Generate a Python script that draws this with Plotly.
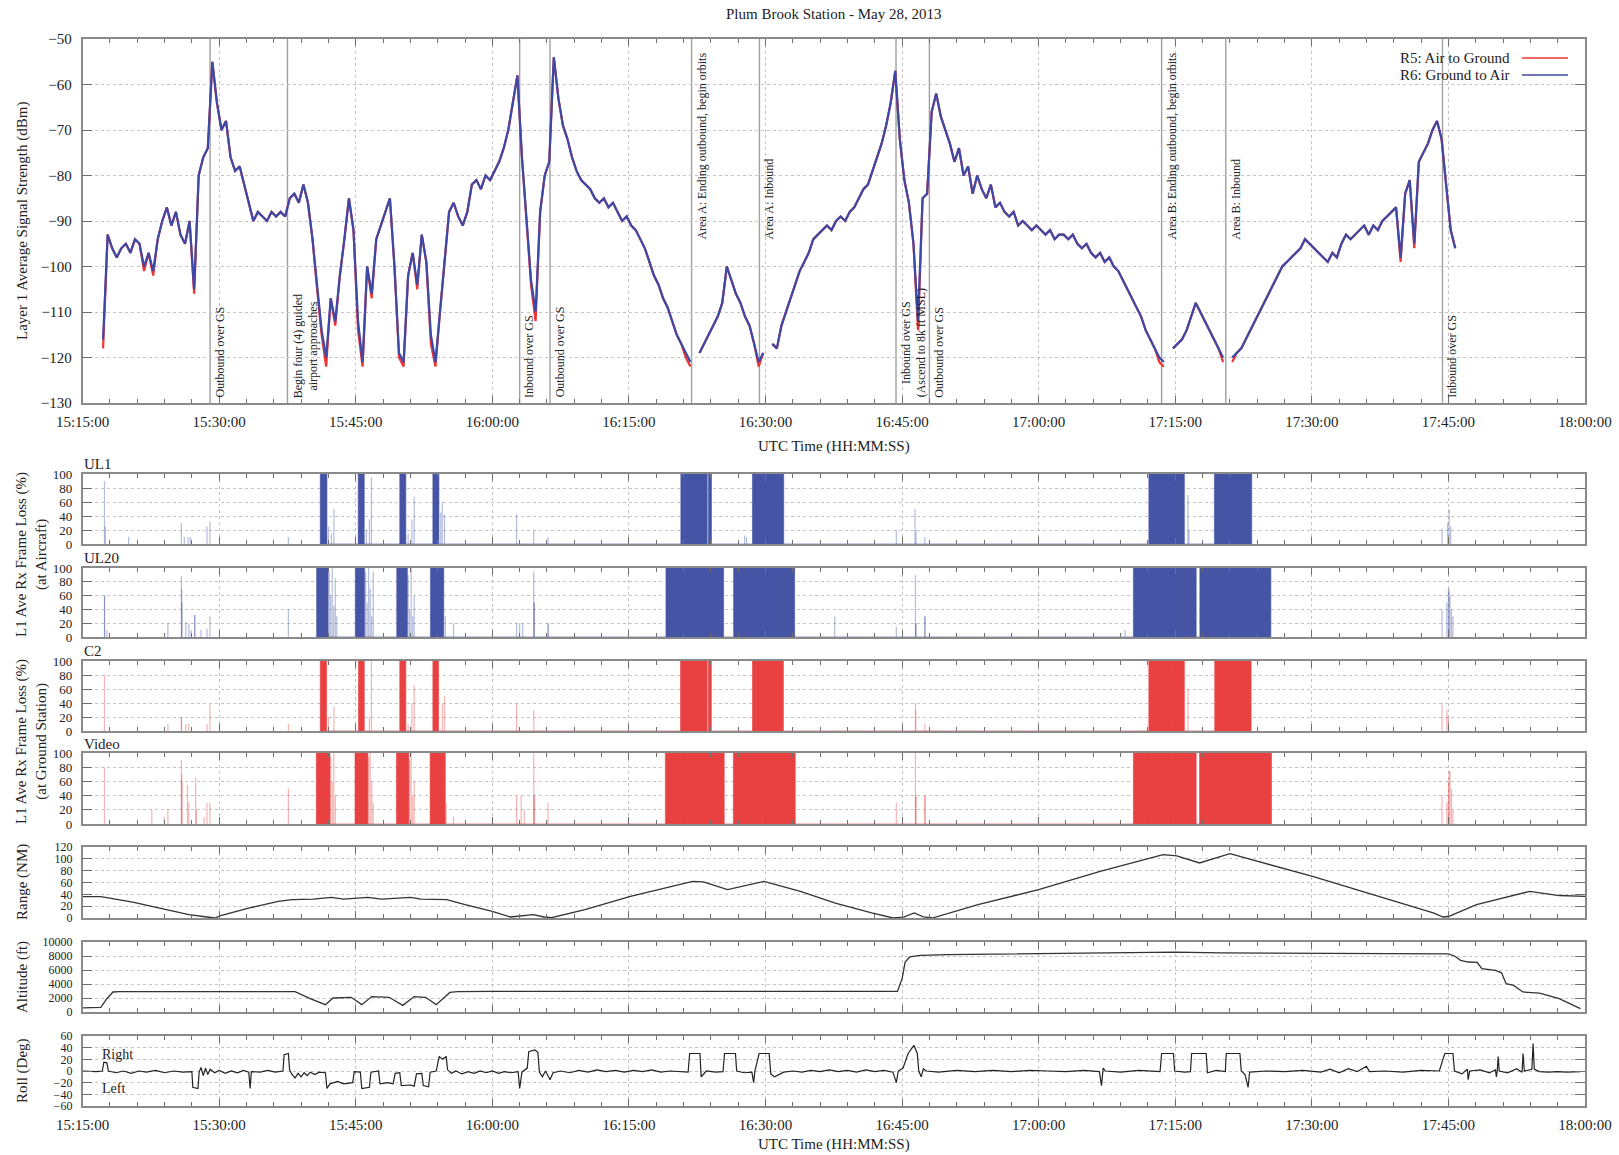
import plotly.graph_objects as go
from plotly.subplots import make_subplots
import pandas as pd

DAY = "2013-05-28 "

# ---------------- Panel 1: Layer 1 average signal strength (30 s samples) ----------------
sig_start = "15:17:15"
r6_dbm = [
    -116, -93, -96, -98, -96, -95, -97, -94, -95, -100,
    -97, -101, -94, -90, -87, -91, -88, -93, -95, -90,
    -105, -80, -76, -74, -55, -64, -70, -68, -76, -79,
    -78, -82, -86, -90, -88, -89, -90, -88, -89, -88,
    -89, -85, -84, -86, -82, -86, -94, -104, -114, -120,
    -107, -112, -102, -94, -85, -92, -112, -121, -100, -106,
    -94, -91, -88, -85, -100, -119, -121, -102, -97, -104,
    -93, -99, -115, -121, -110, -99, -88, -86, -89, -91,
    -88, -82, -81, -83, -80, -81, -79, -77, -74, -70,
    -64, -58, -76, -90, -103, -110, -88, -80, -77, -54,
    -63, -69, -72, -76, -79, -81, -82, -83, -85, -86,
    -85, -87, -86, -88, -90, -89, -91, -92, -94, -96,
    -99, -102, -104, -107, -109, -112, -115, -117, -119, -121,
    None, -119, -117, -115, -113, -111, -108, -100, -103, -106,
    -108, -111, -113, -117, -121, -119, None, -117, -118, -113,
    -110, -107, -104, -101, -99, -97, -94, -93, -92, -91,
    -92, -90, -89, -90, -88, -87, -85, -83, -82, -79,
    -76, -73, -69, -64, -57, -72, -81, -86, -95, -112,
    -85, -84, -66, -62, -67, -70, -73, -77, -74, -80,
    -78, -84, -80, -83, -85, -82, -87, -86, -88, -89,
    -88, -91, -90, -91, -92, -91, -92, -93, -92, -94,
    -93, -93, -94, -93, -95, -96, -95, -97, -98, -97,
    -99, -98, -100, -101, -103, -105, -107, -109, -111, -114,
    -116, -118, -120, -121, None, -118, -117, -116, -114, -111,
    -108, -110, -112, -114, -116, -118, -120, None, -120, -119,
    -118, -116, -114, -112, -110, -108, -106, -104, -102, -100,
    -99, -98, -97, -96, -94, -95, -96, -97, -98, -99,
    -97, -98, -95, -93, -94, -93, -92, -91, -93, -91,
    -92, -90, -89, -88, -87, -98, -84, -81, -95, -77,
    -75, -73, -70, -68, -72, -82, -92, -96,
]
r5_dbm = [
    -118, -93, -96, -98, -96, -95, -97, -94, -95, -101,
    -97, -102, -94, -90, -87, -91, -88, -93, -95, -90,
    -106, -80, -76, -74, -55, -64, -70, -68, -76, -79,
    -78, -82, -86, -90, -88, -89, -90, -88, -89, -88,
    -89, -85, -84, -86, -82, -86, -94, -105, -115, -122,
    -107, -113, -102, -94, -85, -92, -114, -122, -100, -107,
    -94, -91, -88, -85, -100, -120, -122, -102, -97, -105,
    -93, -99, -117, -122, -110, -99, -88, -86, -89, -91,
    -88, -82, -81, -83, -80, -81, -79, -77, -74, -70,
    -64, -58, -76, -90, -104, -112, -88, -80, -77, -54,
    -63, -69, -72, -76, -79, -81, -82, -83, -85, -86,
    -85, -87, -86, -88, -90, -89, -91, -92, -94, -96,
    -99, -102, -104, -107, -109, -112, -115, -117, -120, -122,
    None, -119, -117, -115, -113, -111, -108, -100, -103, -106,
    -108, -111, -113, -117, -122, -119, None, -117, -118, -113,
    -110, -107, -104, -101, -99, -97, -94, -93, -92, -91,
    -92, -90, -89, -90, -88, -87, -85, -83, -82, -79,
    -76, -73, -69, -64, -57, -72, -81, -86, -95, -114,
    -85, -84, -66, -62, -67, -70, -73, -77, -74, -80,
    -78, -84, -80, -83, -85, -82, -87, -86, -88, -89,
    -88, -91, -90, -91, -92, -91, -92, -93, -92, -94,
    -93, -93, -94, -93, -95, -96, -95, -97, -98, -97,
    -99, -98, -100, -101, -103, -105, -107, -109, -111, -114,
    -116, -118, -121, -122, None, -118, -117, -116, -114, -111,
    -108, -110, -112, -114, -116, -118, -121, None, -121, -119,
    -118, -116, -114, -112, -110, -108, -106, -104, -102, -100,
    -99, -98, -97, -96, -94, -95, -96, -97, -98, -99,
    -97, -98, -95, -93, -94, -93, -92, -91, -93, -91,
    -92, -90, -89, -88, -87, -99, -84, -81, -96, -77,
    -75, -73, -70, -68, -72, -82, -92, -96,
]

event_times = ["15:29:00", "15:37:30", "16:03:00", "16:06:20", "16:21:53", "16:29:20",
               "16:44:20", "16:48:00", "17:13:30", "17:20:33", "17:44:21"]
event_labels = ["Outbound over GS", "Begin four (4) guided<br>airport approaches",
                "Inbound over GS", "Outbound over GS",
                "Area A: Ending outbound, begin orbits", "Area A: Inbound",
                "Inbound over GS<br>(Ascend to 8k ft MSL)", "Outbound over GS",
                "Area B: Ending outbound, begin orbits", "Area B: Inbound",
                "Inbound over GS"]
event_label_base = [-129.3, -129.3, -129.3, -129.3, -94.5, -94.5,
                    -129.3, -129.3, -94.5, -94.5, -129.3]

# ---------------- Frame loss panels (% loss) ----------------
ul1_blocks = [("15:41:06", "15:41:50"), ("15:45:16", "15:45:56"), ("15:49:50", "15:50:30"),
              ("15:53:28", "15:54:08"), ("16:20:42", "16:23:36"), ("16:23:44", "16:24:04"),
              ("16:28:34", "16:32:00"), ("17:12:06", "17:16:00"), ("17:19:18", "17:23:24")]
ul1_spike_t = ["15:17:24", "15:17:30", "15:20:03", "15:25:51", "15:26:10", "15:26:35", "15:26:50",
               "15:28:40", "15:28:59", "15:37:36", "15:42:00", "15:42:20", "15:42:36", "15:46:10",
               "15:46:30", "15:46:43", "15:50:45", "15:51:10", "15:51:25", "15:54:20", "15:54:30",
               "15:54:45", "16:02:40", "16:04:33", "16:06:07", "16:27:42", "16:27:55", "16:44:22",
               "16:46:25", "16:46:32", "16:47:30", "17:16:24", "17:16:30", "17:44:18", "17:44:55",
               "17:45:05", "17:45:15"]
ul1_spike_v = [90, 25, 10, 30, 10, 10, 10, 25, 32, 10, 25, 15, 50, 20, 35, 95, 15, 35, 68, 45, 60,
               42, 42, 20, 10, 12, 10, 20, 50, 20, 10, 70, 20, 22, 30, 50, 25]

ul20_blocks = [("15:40:42", "15:41:58"), ("15:44:57", "15:45:58"), ("15:49:30", "15:50:40"),
               ("15:53:12", "15:54:40"), ("16:19:04", "16:25:24"), ("16:26:30", "16:33:12"),
               ("17:10:24", "17:17:18"), ("17:17:42", "17:25:30")]
ul20_spike_t = ["15:17:24", "15:17:25", "15:17:40", "15:24:22", "15:25:51", "15:25:53", "15:25:55",
                "15:26:20", "15:26:40", "15:26:55", "15:27:18", "15:27:20", "15:28:00", "15:28:40",
                "15:28:59", "15:37:36", "15:42:05", "15:42:15", "15:42:25", "15:42:35", "15:42:45",
                "15:42:55", "15:46:05", "15:46:15", "15:46:25", "15:46:35", "15:46:45", "15:46:55",
                "15:50:45", "15:50:55", "15:51:05", "15:51:15", "15:51:25", "15:54:50", "15:55:44",
                "16:02:40", "16:03:00", "16:03:20", "16:04:33", "16:04:35", "16:04:36", "16:06:07",
                "16:06:08", "16:37:36", "16:44:22", "16:46:28", "16:46:30", "16:46:31", "16:47:30",
                "16:47:31", "17:09:30", "17:44:18", "17:44:50", "17:45:00", "17:45:05", "17:45:10",
                "17:45:20", "17:45:30"]
ul20_spike_v = [60, 60, 10, 20, 88, 70, 50, 22, 20, 10, 32, 32, 10, 12, 30, 40, 95, 60, 100, 45, 85,
                30, 95, 50, 100, 70, 30, 95, 90, 40, 100, 30, 60, 30, 20, 20, 20, 20, 95, 50, 50, 20,
                20, 30, 15, 90, 20, 20, 30, 30, 10, 40, 50, 70, 70, 60, 40, 30]

c2_blocks = [("15:41:06", "15:41:48"), ("15:45:18", "15:45:56"), ("15:49:50", "15:50:30"),
             ("15:53:28", "15:54:06"), ("16:20:40", "16:23:36"), ("16:23:44", "16:24:03"),
             ("16:28:34", "16:31:58"), ("17:12:06", "17:16:00"), ("17:19:20", "17:23:20")]
c2_spike_t = ["15:17:24", "15:24:22", "15:25:51", "15:25:52", "15:26:20", "15:26:40", "15:28:40",
              "15:28:59", "15:37:36", "15:42:00", "15:42:36", "15:46:30", "15:46:43", "15:50:45",
              "15:51:10", "15:51:25", "15:54:30", "15:54:45", "16:02:40", "16:04:33", "16:46:28",
              "16:46:30", "16:47:30", "17:16:24", "17:44:18", "17:44:50", "17:45:00"]
c2_spike_v = [80, 10, 20, 20, 10, 10, 10, 38, 10, 20, 35, 20, 100, 10, 40, 65, 40, 50, 40, 30, 40,
              30, 10, 60, 40, 30, 20]

video_blocks = [("15:40:40", "15:42:10"), ("15:44:55", "15:46:20"), ("15:49:28", "15:50:50"),
                ("15:53:10", "15:54:50"), ("16:19:00", "16:25:28"), ("16:26:28", "16:33:16"),
                ("17:10:24", "17:17:18"), ("17:17:40", "17:25:34")]
video_spike_t = ["15:17:24", "15:22:36", "15:23:58", "15:24:22", "15:25:51", "15:25:53", "15:25:55",
                 "15:26:31", "15:26:40", "15:27:25", "15:27:30", "15:28:20", "15:28:40", "15:28:59",
                 "15:37:36", "15:42:15", "15:42:25", "15:42:35", "15:42:45", "15:46:25", "15:46:35",
                 "15:46:45", "15:46:55", "15:50:55", "15:51:05", "15:51:15", "15:51:25", "15:54:55",
                 "15:55:44", "16:02:40", "16:03:10", "16:03:30", "16:04:33", "16:04:35", "16:04:36",
                 "16:06:07", "16:44:22", "16:46:28", "16:46:30", "16:46:31", "16:47:30", "16:47:31",
                 "17:44:18", "17:44:50", "17:45:00", "17:45:05", "17:45:10", "17:45:20", "17:45:30"]
video_spike_v = [80, 20, 10, 20, 90, 70, 60, 55, 30, 65, 20, 10, 30, 30, 50, 95, 60, 100, 40, 95,
                 100, 60, 30, 90, 100, 40, 60, 30, 10, 40, 40, 20, 100, 40, 40, 30, 30, 100, 40, 40,
                 40, 40, 40, 30, 60, 75, 75, 50, 20]

# ---------------- Range (NM) ----------------
range_t = ["15:15:00", "15:17:00", "15:20:30", "15:24:00", "15:26:40", "15:28:40", "15:29:30",
           "15:30:10", "15:33:20", "15:36:30", "15:38:00", "15:40:20", "15:42:20", "15:43:40",
           "15:46:20", "15:47:50", "15:51:00", "15:52:10", "15:55:00", "15:57:00", "16:00:00",
           "16:02:00", "16:03:10", "16:04:30", "16:05:40", "16:06:30", "16:10:10", "16:15:10",
           "16:22:00", "16:23:10", "16:25:50", "16:29:50", "16:33:50", "16:37:40", "16:41:40",
           "16:44:00", "16:45:10", "16:46:20", "16:47:20", "16:48:20", "16:53:20", "17:00:00",
           "17:06:45", "17:13:40", "17:15:10", "17:17:40", "17:21:00", "17:30:05", "17:43:20",
           "17:44:25", "17:45:00", "17:48:05", "17:53:55", "17:55:25", "17:57:10", "18:00:00"]
range_nm = [36, 36, 27, 15, 5.6, 1.7, 0, 4, 17, 28, 31, 32, 35, 32, 35, 32, 35, 32, 31, 22.5, 11,
            1.7, 3, 5.6, 1.7, 0.5, 14, 36.5, 62, 61, 48, 62, 45, 25, 8.5, 0, 1.5, 8.5, 2, 0, 22.5,
            48, 79, 107, 105, 93, 108.7, 70.3, 8.5, 1.7, 2.5, 22.5, 45, 42, 38, 36.5]

# ---------------- Altitude (ft) ----------------
alt_t = ["15:15:00", "15:17:00", "15:17:40", "15:18:20", "15:19:00", "15:25:00", "15:28:00",
         "15:33:00", "15:38:20", "15:40:00", "15:41:40", "15:42:30", "15:44:30", "15:45:40",
         "15:46:45", "15:48:40", "15:50:10", "15:51:25", "15:52:40", "15:53:50", "15:55:20",
         "15:56:10", "16:00:00", "16:15:00", "16:30:00", "16:44:30", "16:45:00", "16:45:20",
         "16:45:50", "16:47:00", "16:50:00", "17:00:00", "17:10:00", "17:15:00", "17:20:00",
         "17:30:00", "17:40:00", "17:45:00", "17:45:40", "17:46:20", "17:47:10", "17:48:10",
         "17:48:40", "17:50:10", "17:50:50", "17:51:20", "17:52:10", "17:53:10", "17:55:00",
         "17:56:00", "17:57:10", "17:59:30"]
alt_ft = [600, 650, 1900, 2860, 2900, 2900, 2950, 2950, 2900, 1900, 1050, 2000, 2100, 1050, 2200,
          2100, 950, 2200, 2100, 1050, 2800, 2900, 2950, 2950, 2950, 2950, 4760, 7140, 7860, 8100,
          8200, 8300, 8500, 8550, 8450, 8400, 8300, 8300, 8000, 7380, 7140, 7100, 6190, 5950, 5600,
          4040, 3800, 2860, 2700, 2300, 1900, 470]

# ---------------- Roll (deg) ----------------
roll_t = ["15:15:00", "15:16:30", "15:17:10", "15:17:20", "15:17:40", "15:17:50", "15:18:40",
          "15:19:30", "15:20:20", "15:21:10", "15:22:00", "15:23:00", "15:24:00", "15:25:00",
          "15:26:00", "15:27:00", "15:27:06", "15:27:40", "15:27:48", "15:28:00", "15:28:15",
          "15:28:30", "15:28:45", "15:29:00", "15:29:30", "15:30:00", "15:30:40", "15:31:20",
          "15:32:00", "15:32:40", "15:33:15", "15:33:24", "15:33:32", "15:34:30", "15:35:20",
          "15:36:10", "15:37:00", "15:37:08", "15:37:36", "15:37:44", "15:38:00", "15:38:20",
          "15:38:40", "15:39:00", "15:39:20", "15:39:40", "15:40:00", "15:40:30", "15:41:00",
          "15:41:40", "15:41:50", "15:42:10", "15:43:00", "15:43:40", "15:44:40", "15:44:50",
          "15:45:30", "15:45:40", "15:46:30", "15:46:40", "15:47:30", "15:47:40", "15:48:30",
          "15:49:06", "15:49:20", "15:49:50", "15:50:00", "15:51:00", "15:51:25", "15:51:40",
          "15:52:15", "15:52:25", "15:53:00", "15:53:10", "15:53:50", "15:54:10", "15:54:30",
          "15:54:56", "15:55:05", "15:55:30", "15:56:00", "15:56:40", "15:57:20", "15:58:00",
          "15:58:40", "15:59:20", "16:00:00", "16:00:40", "16:01:20", "16:02:00", "16:02:50",
          "16:03:00", "16:03:15", "16:03:50", "16:04:00", "16:04:40", "16:05:00", "16:05:10",
          "16:05:30", "16:05:50", "16:06:20", "16:06:40", "16:07:30", "16:08:30", "16:09:30",
          "16:10:30", "16:11:30", "16:12:30", "16:13:30", "16:14:30", "16:15:30", "16:16:30",
          "16:17:30", "16:18:30", "16:19:30", "16:20:30", "16:21:30", "16:21:40", "16:22:48",
          "16:22:56", "16:23:30", "16:24:30", "16:25:20", "16:25:30", "16:26:42", "16:26:50",
          "16:27:40", "16:28:30", "16:28:42", "16:28:50", "16:29:18", "16:30:24", "16:30:35",
          "16:31:00", "16:31:30", "16:32:00", "16:33:00", "16:34:00", "16:35:00", "16:36:00",
          "16:37:00", "16:38:00", "16:39:00", "16:40:00", "16:41:00", "16:42:00", "16:43:00",
          "16:44:00", "16:44:22", "16:44:35", "16:45:06", "16:45:40", "16:46:18", "16:46:40",
          "16:46:50", "16:47:06", "16:47:20", "16:47:40", "16:49:00", "16:51:00", "16:53:00",
          "16:55:00", "16:57:00", "16:59:00", "17:01:00", "17:03:00", "17:05:00", "17:06:40",
          "17:06:54", "17:07:05", "17:07:20", "17:09:00", "17:11:00", "17:13:20", "17:13:30",
          "17:14:48", "17:14:56", "17:16:00", "17:16:40", "17:16:48", "17:18:24", "17:18:32",
          "17:19:30", "17:20:30", "17:20:36", "17:22:06", "17:22:15", "17:22:40", "17:23:00",
          "17:23:10", "17:25:00", "17:27:00", "17:29:00", "17:31:00", "17:32:00", "17:33:00",
          "17:34:00", "17:35:00", "17:36:00", "17:36:20", "17:38:00", "17:40:00", "17:42:00",
          "17:44:00", "17:44:36", "17:45:30", "17:45:40", "17:46:30", "17:47:05", "17:47:10",
          "17:47:20", "17:48:30", "17:49:30", "17:50:10", "17:50:16", "17:50:22", "17:50:28",
          "17:50:35", "17:51:30", "17:52:30", "17:53:05", "17:53:12", "17:53:20", "17:54:10",
          "17:54:18", "17:54:26", "17:55:00", "17:56:00", "17:57:00", "17:58:00", "17:59:30"]
roll_deg = [0, -1, 0, 15, 14, 0, -3,
            0, -4, 0, -2, 1, -3, 0,
            -2, -1, -28, -30, -2, 6, -8,
            5, -6, 3, -3, 1, -4, 0,
            -3, 1, -2, -30, -1, -2, 1,
            -2, 0, 28, 30, 2, -6, -12,
            -4, -10, -3, -8, -2, -6, -2,
            -3, -30, -22, -18, -22, -20, -1,
            -2, -30, -28, -2, 0, -22, -20,
            -22, -4, -3, -25, -24, -26, -5,
            -4, -25, -27, -2, 0, 25, 20,
            25, 2, -4, 0, -5, -1, -4,
            0, -3, 0, -4, -1, -3, -1,
            -30, -2, 5, 33, 36, 32, -2,
            -10, 0, -15, -3, 0, -3, 1,
            -2, 2, -1, 1, -2, 1, -1,
            2, -2, 0, -1, -2, 30, 30,
            -10, 0, -2, -1, 30, 30, 0,
            -3, -2, -20, 0, 30, 30, -5,
            -10, -6, -2, 0, -2, 1, -1,
            2, -1, 1, -2, 2, -1, 1,
            -2, -20, 0, 5, 30, 44, 30,
            0, -10, 4, 0, -2, 1, -1,
            1, -1, 1, 0, -1, 1, -1,
            -25, 5, 0, -2, 1, -1, 30,
            30, 0, -2, -1, 30, 30, -3,
            1, -1, 30, 30, 0, -6, -28,
            -2, 0, -1, 1, -2, 3, -3,
            4, -1, 8, -1, 0, -2, 1,
            0, 30, 30, 0, -5, 3, -15,
            0, 2, -3, 2, -10, 1, 25,
            0, -3, 4, -2, 30, 0, 3,
            47, 3, -1, -2, -1, -2, -1]

# ---------------- Figure ----------------
W, H = 1619, 1155
XDOM = [82.6 / W, 1585 / W]
panels_px = [(39, 403), (474, 544), (568, 637), (661, 731), (753, 824),
             (847, 918), (942, 1012), (1036, 1106)]

BLUE = "#3d49a6"
RED = "#ee3434"
BLUE_FILL = "#4654a6"
RED_FILL = "#e94141"
BLUE_FAINT = "rgba(70,84,166,0.40)"
RED_FAINT = "rgba(233,65,65,0.40)"
FONT = "Liberation Serif"

fig = make_subplots(rows=8, cols=1)

sig_x = pd.date_range(DAY + sig_start, periods=len(r6_dbm), freq="30s")
fig.add_trace(go.Scatter(x=sig_x, y=r5_dbm, mode="lines", name="R5: Air to Ground",
                         line=dict(color=RED, width=2.2)), row=1, col=1)
fig.add_trace(go.Scatter(x=sig_x, y=r6_dbm, mode="lines", name="R6: Ground to Air",
                         line=dict(color=BLUE, width=2.2)), row=1, col=1)


def block_xy(blocks):
    xs, ys = [], []
    for s, e in blocks:
        xs += [DAY + s, DAY + s, DAY + e, DAY + e]
        ys += [0, 100, 100, 0]
    return xs, ys


def spike_xy(ts, vs):
    xs, ys = [], []
    for t, v in zip(ts, vs):
        xs += [DAY + t, DAY + t, None]
        ys += [0, v, None]
    return xs, ys


loss_panels = [
    (2, ul1_blocks, ul1_spike_t, ul1_spike_v, BLUE_FILL, BLUE_FAINT, "UL1"),
    (3, ul20_blocks, ul20_spike_t, ul20_spike_v, BLUE_FILL, BLUE_FAINT, "UL20"),
    (4, c2_blocks, c2_spike_t, c2_spike_v, RED_FILL, RED_FAINT, "C2"),
    (5, video_blocks, video_spike_t, video_spike_v, RED_FILL, RED_FAINT, "Video"),
]
for row, blocks, st, sv, fc, faint, name in loss_panels:
    sx, sy = spike_xy(st, sv)
    fig.add_trace(go.Scatter(x=sx, y=sy, mode="lines", name=name + " spikes",
                             line=dict(color=faint, width=1.2)), row=row, col=1)
    bx, by = block_xy(blocks)
    fig.add_trace(go.Scatter(x=bx, y=by, mode="lines", fill="tozeroy", name=name,
                             fillcolor=fc, line=dict(color=fc, width=0.6)), row=row, col=1)

fig.add_trace(go.Scatter(x=[DAY + t for t in range_t], y=range_nm, mode="lines", name="Range",
                         line=dict(color="#333333", width=1.3)), row=6, col=1)
fig.add_trace(go.Scatter(x=[DAY + t for t in alt_t], y=alt_ft, mode="lines", name="Altitude",
                         line=dict(color="#333333", width=1.3)), row=7, col=1)
fig.add_trace(go.Scatter(x=[DAY + t for t in roll_t], y=roll_deg, mode="lines", name="Roll",
                         line=dict(color="#222222", width=1.2)), row=8, col=1)

AXCOL = "#8a8a8a"
GRIDCOL = "#c4c4c4"
for i in range(1, 9):
    fig.update_xaxes(
        type="date", range=[DAY + "15:15:00", DAY + "18:00:00"], automargin=False,
        tick0=DAY + "15:15:00", dtick=15 * 60 * 1000, tickformat="%H:%M:%S",
        ticks="inside", ticklen=7, tickwidth=1.2, tickcolor="#6f6f6f",
        minor=dict(dtick=3 * 60 * 1000, ticks="inside", ticklen=4, tickwidth=1.1,
                   tickcolor="#6f6f6f", showgrid=False),
        showgrid=True, gridcolor=GRIDCOL, griddash="dot", gridwidth=1,
        showline=True, linecolor=AXCOL, linewidth=1.6, mirror="allticks",
        zeroline=False, domain=XDOM, showticklabels=(i in (1, 8)),
        tickfont=dict(family=FONT, size=15, color="#222"), ticklabelstandoff=4,
        row=i, col=1)

yspecs = [(-130, -50, 10), (0, 100, 20), (0, 100, 20), (0, 100, 20), (0, 100, 20),
          (0, 120, 20), (0, 10000, 2000), (-60, 60, 20)]
for i, ((lo, hi, dt), (top, bot)) in enumerate(zip(yspecs, panels_px), start=1):
    fig.update_yaxes(
        range=[lo, hi], tick0=lo, dtick=dt, domain=[1 - bot / H, 1 - top / H],
        automargin=False, tickformat="d",
        ticks="inside", ticklen=10, tickwidth=1.2, tickcolor="#6f6f6f",
        showgrid=True, gridcolor=GRIDCOL, griddash="dot", gridwidth=1,
        showline=True, linecolor=AXCOL, linewidth=1.6, mirror="allticks",
        zeroline=False,
        tickfont=dict(family=FONT, size=15 if i == 1 else (13 if i <= 5 else 12), color="#222"),
        ticklabelstandoff=6, row=i, col=1)

shapes = []
annotations = []

# event marker lines and labels
for t, lab, yb in zip(event_times, event_labels, event_label_base):
    shapes.append(dict(type="line", xref="x", yref="y domain", x0=DAY + t, x1=DAY + t,
                       y0=0, y1=1, line=dict(color="#a0a0a0", width=1.4), layer="below"))
    annotations.append(dict(xref="x", yref="y", x=DAY + t, y=yb, text=lab, textangle=-90,
                            xanchor="left", yanchor="bottom", xshift=1, showarrow=False,
                            align="center", font=dict(family=FONT, size=12, color="#222")))

# legend (gnuplot style: text then sample line)
leg = [("R5: Air to Ground", RED, 58), ("R6: Ground to Air", BLUE, 75)]
for txt, col, ypx in leg:
    annotations.append(dict(xref="paper", yref="paper", x=1512 / W, y=1 - ypx / H, text=txt,
                            xanchor="right", yanchor="middle", showarrow=False,
                            font=dict(family=FONT, size=15, color="#222")))
    shapes.append(dict(type="line", xref="paper", yref="paper", x0=1522 / W, x1=1568 / W,
                       y0=1 - ypx / H, y1=1 - ypx / H, line=dict(color=col, width=1.6)))

# title and axis titles
annotations.append(dict(xref="paper", yref="paper", x=833.8 / W, y=1 - 14.5 / H,
                        text="Plum Brook Station - May 28, 2013", showarrow=False,
                        xanchor="center", yanchor="middle",
                        font=dict(family=FONT, size=15, color="#222")))
for ypx in (446, 1144):
    annotations.append(dict(xref="paper", yref="paper", x=833.8 / W, y=1 - ypx / H,
                            text="UTC Time (HH:MM:SS)", showarrow=False,
                            xanchor="center", yanchor="middle",
                            font=dict(family=FONT, size=15, color="#222")))

ytitles = [("Layer 1 Average Signal Strength (dBm)", 22, 221),
           ("L1 Ave Rx Frame Loss (%)<br>(at Aircraft)", 31, 555),
           ("L1 Ave Rx Frame Loss (%)<br>(at Ground Station)", 31, 742),
           ("Range (NM)", 22, 882), ("Altitude (ft)", 22, 977), ("Roll (Deg)", 22, 1071)]
for txt, xpx, ypx in ytitles:
    annotations.append(dict(xref="paper", yref="paper", x=xpx / W, y=1 - ypx / H, text=txt,
                            textangle=-90, showarrow=False, xanchor="center",
                            yanchor="middle", align="center",
                            font=dict(family=FONT, size=15, color="#222")))

# panel names
for txt, ypx in [("UL1", 464), ("UL20", 558), ("C2", 651), ("Video", 744)]:
    annotations.append(dict(xref="paper", yref="paper", x=82 / W, y=1 - ypx / H, text=txt,
                            xanchor="left", yanchor="middle", showarrow=False,
                            font=dict(family=FONT, size=15, color="#222")))

# roll direction labels
annotations.append(dict(xref="x8", yref="y8", x=DAY + "15:16:55", y=28, text="Right",
                        xanchor="left", yanchor="middle", showarrow=False,
                        font=dict(family=FONT, size=14, color="#222")))
annotations.append(dict(xref="x8", yref="y8", x=DAY + "15:16:55", y=-30, text="Left",
                        xanchor="left", yanchor="middle", showarrow=False,
                        font=dict(family=FONT, size=14, color="#222")))

fig.update_layout(
    width=W, height=H, margin=dict(l=0, r=0, t=0, b=0, autoexpand=False),
    paper_bgcolor="white", plot_bgcolor="white", showlegend=False,
    font=dict(family=FONT, size=15, color="#222"),
    shapes=shapes, annotations=annotations,
)

fig.write_html("out.html", config={"displayModeBar": False},
               post_script="document.body.style.margin='0px';"
                           "document.body.style.overflow='hidden';")
